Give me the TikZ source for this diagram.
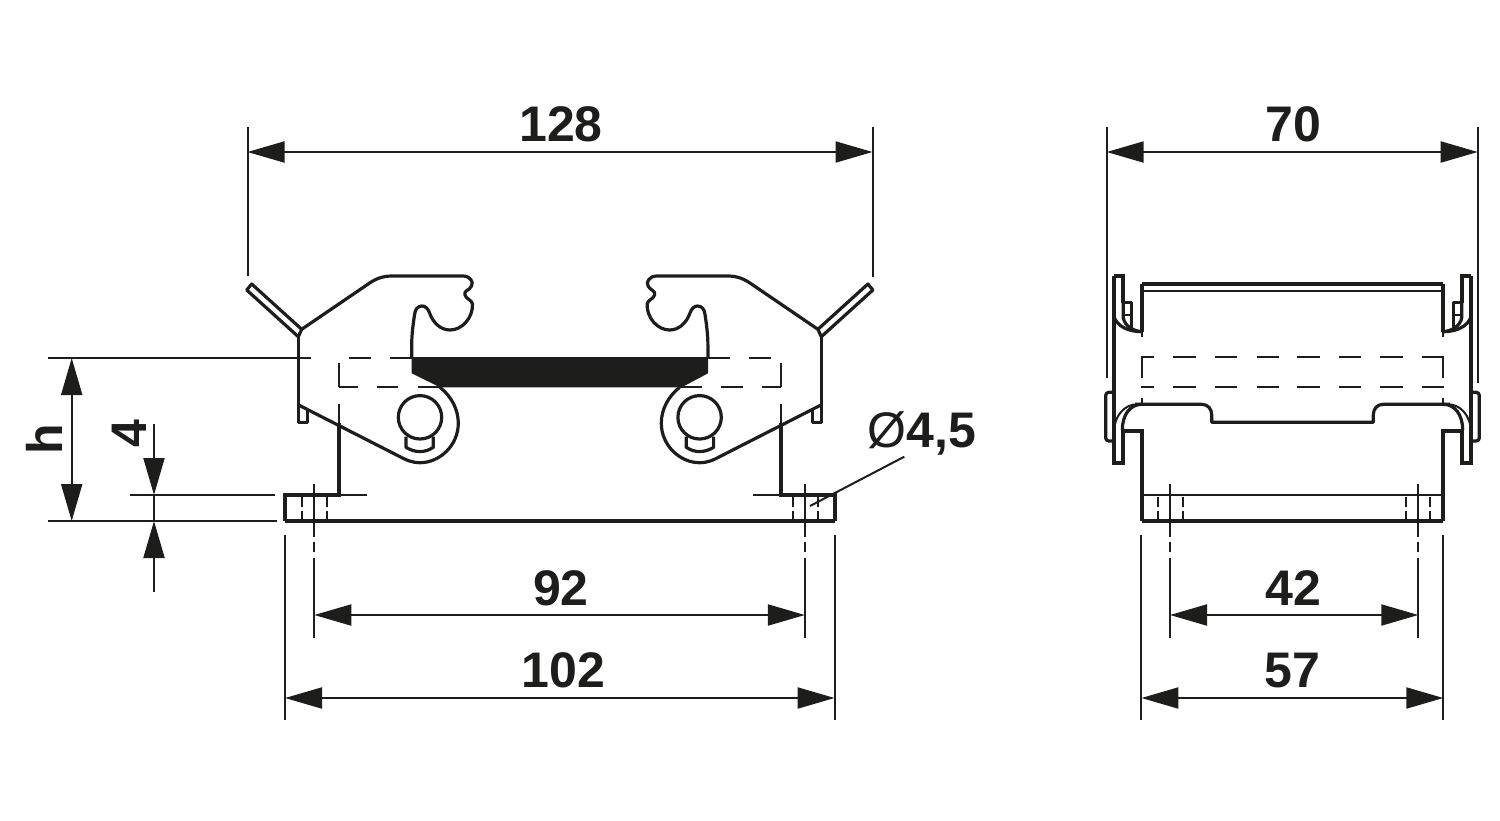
\documentclass[tikz,border=0pt]{standalone}
\usepackage{fontspec}
\setmainfont{Liberation Sans}
\usetikzlibrary{arrows.meta}
\definecolor{ink}{HTML}{1D1D1B}
\tikzset{
  thinl/.style={draw=ink,line width=1pt},
  medl/.style={draw=ink,line width=1.6pt,line join=round},
  heavy/.style={draw=ink,line width=2.1pt,line join=miter},
  holel/.style={draw=ink,line width=1pt,dash pattern=on 5pt off 1.8pt},
  dim/.style={draw=ink,line width=1pt,{Triangle[length=18.5pt,width=10.5pt,fill=ink]}-{Triangle[length=18.5pt,width=10.5pt,fill=ink]}},
  onetip/.style={draw=ink,line width=1pt,-{Triangle[length=18.5pt,width=10.5pt,fill=ink]}},
  lbl/.style={text=ink,font=\fontsize{25}{25}\bfseries\selectfont,anchor=base,inner sep=0pt,outer sep=0pt},
}
\newcommand{\frontHalf}{
  % handle strip
  \draw[medl] (301.7,329.3) -- (251.7,284) -- (246.7,290) -- (298.3,336.7);
  % hook outline
  \draw[medl] (298.3,336.7) -- (301.7,329.3) -- (366.7,285) .. controls (375,279) and (382,276) .. (392,276) -- (463,276)
    .. controls (470,276) and (474,282) .. (471.5,286) .. controls (470,290) and (463,291) .. (465,295)
    .. controls (466,299) and (472,300) .. (472.5,304) .. controls (473,318) and (462,330) .. (450,330)
    .. controls (440,330) and (433,322) .. (430,314) .. controls (428,308) and (425,306) .. (422,306)
    .. controls (418,306) and (415,309) .. (414.5,315) .. controls (413,325) and (411.7,335) .. (411.7,345) -- (411.7,358);
  % outer wall and stub
  \draw[medl] (298.3,336.7) -- (298.3,422.7) -- (307.3,422.7) -- (307.3,409);
  % lobe
  \draw[medl] (440,387.3) .. controls (452,397) and (458.3,410) .. (458.3,423.3)
    .. controls (458.3,445) and (440,462.7) .. (420,462.7) .. controls (412,462.7) and (406,460) .. (400,456.7) -- (299,405.2);
  % pivot
  \draw[medl] (420,417.3) circle (21.7);
  \draw[medl] (406,436.5) -- (406,447.3) .. controls (415,453) and (425,453) .. (433.3,447.3) -- (433.3,436.5);
  % hidden edges
  \foreach \a/\b in {349/371,390/411.7}{\draw[thinl] (\a,358) -- (\b,358);}
  \foreach \a/\b in {339/357.7,376.7/398.3,418/440}{\draw[thinl] (\a,387.3) -- (\b,387.3);}
  \draw[thinl] (339,362.7) -- (339,387.3);
  \draw[thinl] (339,404) -- (339,423);
  % support wall and flange
  \draw[heavy] (339,423) -- (339,495.3) -- (285,495.3) -- (285,521);
  \draw[thinl] (339,495.3) -- (367,495.3);
  \foreach \x in {302,326.7}{\draw[holel] (\x,497) -- (\x,521);}
  \draw[thinl] (314.3,484) -- (314.3,536.7);
}
\newcommand{\sideHalf}{
  % upper latch
  \draw[heavy] (1114,276) -- (1123.3,276) -- (1123.3,302.7);
  \draw[medl] (1123.3,302.7) -- (1131.7,302.7) -- (1131.7,328);
  \draw[medl] (1123.3,302.7) -- (1123.3,318) .. controls (1125,326) and (1133,331) .. (1141.7,331.7);
  \draw[thinl] (1123.3,315) -- (1131.7,315);
  \draw[medl] (1114,316.7) .. controls (1117,326) and (1128,331.7) .. (1141.7,331.7);
  % outer line
  \draw[heavy] (1114,276) -- (1114,463.3) -- (1123.3,463.3) -- (1123.3,430);
  % tab
  \draw[medl,rounded corners=1.5pt] (1114,392.3) -- (1105.7,392.3) -- (1105.7,441) -- (1114,441);
  % lower curves
  \draw[thinl] (1114,430) .. controls (1115,415) and (1125,404.3) .. (1137,404.3);
  \draw[medl] (1122.3,430) .. controls (1122.3,415) and (1130,404.3) .. (1141.7,404.3);
  \draw[heavy] (1123.3,430.7) -- (1141.7,430.7) -- (1141.7,521);
  % body edge
  \draw[heavy] (1141.7,284) -- (1141.7,331.7);
  \draw[thinl] (1141.7,331.7) -- (1141.7,337);
  % hidden edges
  \draw[thinl] (1141.7,357.3) -- (1141.7,378);
  \draw[thinl] (1141.7,398.3) -- (1141.7,404.3);
}
\begin{document}
\begin{tikzpicture}[x=0.5pt,y=-0.5pt]
\useasboundingbox (0,0) rectangle (1500,820);
% ---- front view
\fill[ink] (411.7,357) -- (708,357) -- (708,373.3) -- (681.7,387.3) -- (440,387.3) -- (411.7,373.3) -- cycle;
\frontHalf
\begin{scope}[shift={(1119.6,0)},xscale=-1]
\frontHalf
\end{scope}
\draw[heavy] (285,521) -- (834.6,521);
% ---- side view
\sideHalf
\begin{scope}[shift={(2585,0)},xscale=-1]
\sideHalf
\end{scope}
\foreach \a/\b in {1141/1154.3,1173.3/1196,1215/1237.3,1256.7/1278.7,1297.3/1320,1338.7/1361.3,1380/1402.7,1421.7/1444}{
  \draw[thinl] (\a,357.3) -- (\b,357.3);
  \draw[thinl] (\a,386.7) -- (\b,386.7);}
\foreach \x in {1158.3,1183.3,1406,1430}{\draw[holel] (\x,497) -- (\x,521);}
\foreach \x in {1170,1418.3}{\draw[thinl] (\x,484) -- (\x,536.7);}
\draw[heavy] (1141.7,284) -- (1443.3,284);
\draw[thinl] (1141.7,290.7) -- (1443.3,290.7);
\draw[medl] (1135,404.3) -- (1201.7,404.3) .. controls (1208,404.3) and (1211.7,409) .. (1211.7,415) -- (1211.7,422.3) -- (1373.3,422.3) -- (1373.3,415)
  .. controls (1373.3,409) and (1377,404.3) .. (1383.3,404.3) -- (1450,404.3);
\draw[thinl] (1141.7,495.3) -- (1443.3,495.3);
\draw[heavy] (1141.7,521) -- (1443.3,521);
% ---- extension lines
\coordinate (e128a) at (247.5,127); \coordinate (e128b) at (247.5,276);
\coordinate (e128c) at (872.5,127); \coordinate (e128d) at (872.5,277);
\draw[thinl] (e128a) -- (e128b); \draw[thinl] (e128c) -- (e128d);
\coordinate (e70a) at (1106.7,127); \coordinate (e70b) at (1106.7,378);
\coordinate (e70c) at (1477.7,127); \coordinate (e70d) at (1477.7,383);
\draw[thinl] (e70a) -- (e70b); \draw[thinl] (e70c) -- (e70d);
\coordinate (ehA) at (47.7,358); \coordinate (ehB) at (311,358);
\coordinate (ehC) at (47.7,521); \coordinate (ehD) at (276.7,521);
\coordinate (e4A) at (130,495); \coordinate (e4B) at (275,495);
\draw[thinl] (ehA) -- (ehB); \draw[thinl] (ehC) -- (ehD); \draw[thinl] (e4A) -- (e4B);
\foreach \x in {285,834.6,1141.4,1443.3}{\draw[thinl] (\x,535) -- (\x,720);}
\foreach \x in {314.3,804.9,1170,1418.3}{
  \draw[thinl] (\x,541.7) -- (\x,551.7);
  \draw[thinl] (\x,558) -- (\x,638);}
% ---- dimension lines
\coordinate (d128a) at (247.5,152); \coordinate (d128b) at (872.5,152);
\draw[dim] (d128a) -- (d128b);
\coordinate (d70a) at (1106.7,152); \coordinate (d70b) at (1477.7,152);
\draw[dim] (d70a) -- (d70b);
\coordinate (d92a) at (314.3,615); \coordinate (d92b) at (804.9,615);
\draw[dim] (d92a) -- (d92b);
\coordinate (d102a) at (285,698); \coordinate (d102b) at (834.6,698);
\draw[dim] (d102a) -- (d102b);
\coordinate (d42a) at (1170,615); \coordinate (d42b) at (1418.3,615);
\draw[dim] (d42a) -- (d42b);
\coordinate (d57a) at (1141.4,698); \coordinate (d57b) at (1443.3,698);
\draw[dim] (d57a) -- (d57b);
\coordinate (dha) at (71.7,358); \coordinate (dhb) at (71.7,521);
\draw[dim] (dha) -- (dhb);
\coordinate (d4a) at (154,424); \coordinate (d4b) at (154,495);
\coordinate (d4c) at (154,591.7); \coordinate (d4d) at (154,521);
\draw[onetip] (d4a) -- (d4b);
\draw[onetip] (d4c) -- (d4d);
\draw[thinl] (d4b) -- (d4d);
\coordinate (ldA) at (810,506); \coordinate (ldB) at (904.3,456.7);
\draw[thinl] (ldA) -- (ldB);
% ---- labels
\node[lbl] (t128) at (561,141.5) {128};
\node[lbl] (t70) at (1293,141.5) {70};
\node[lbl] (t92) at (561,605) {92};
\node[lbl] (t102) at (563.5,687) {102};
\node[lbl] (t42) at (1293,605) {42};
\node[lbl] (t57) at (1292,687) {57};
\node[lbl,rotate=90] (th) at (62.7,439) {h};
\node[lbl,rotate=90] (t4) at (146.7,434) {4};
\node[lbl] (tdia) at (922,447) {{\mdseries Ø}4,5};
\end{tikzpicture}
\end{document}
